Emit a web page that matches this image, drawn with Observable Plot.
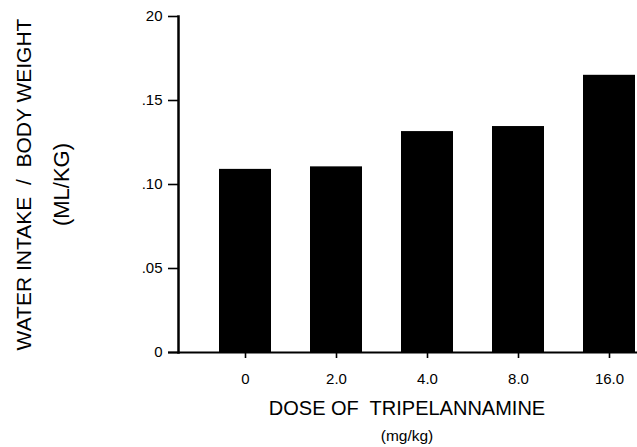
<!DOCTYPE html>
<html>
<head>
<meta charset="utf-8">
<script src="https://cdn.jsdelivr.net/npm/d3@7"></script>
<script src="https://cdn.jsdelivr.net/npm/@observablehq/plot@0.6"></script>
<style>
  html, body { margin: 0; padding: 0; background: #fff; }
  #chart svg { display: block; }
  #chart svg g[aria-label$="tick label"],
  #chart svg g[aria-label$="tick label"] text { font-size: 15px !important; }
</style>
</head>
<body>
<div id="chart"></div>
<script>
// Data
const doses = ["0", "2.0", "4.0", "8.0", "16.0"];
const intake = [0.109, 0.1105, 0.1315, 0.1345, 0.165];
const yTicks = [0, 0.05, 0.10, 0.15, 0.20];
const yTickLabels = ["0", ".05", ".10", ".15", "20"];
const yTitle = "WATER INTAKE  /  BODY WEIGHT";
const yUnit = "(ML/KG)";
const xTitle = "DOSE OF  TRIPELANNAMINE";
const xUnit = "(mg/kg)";

const data = doses.map((d, i) => ({dose: d, value: intake[i]}));
const font = "'Liberation Sans', Arial, Helvetica, sans-serif";

const chart = Plot.plot({
  width: 637,
  height: 447,
  marginLeft: 178,
  marginRight: 2,
  marginTop: 16,
  marginBottom: 95,
  style: {fontFamily: font, fontSize: "15px", color: "#000", background: "#fff"},
  x: {domain: doses, paddingInner: 0.43, paddingOuter: 0.22, align: 1},
  y: {domain: [0, 0.2]},
  marks: [
    Plot.barY(data, {x: "dose", y: "value", fill: "#000"}),
    Plot.frame({anchor: "left", stroke: "#000", strokeWidth: 2.5}),
    Plot.ruleY([0], {stroke: "#000", strokeWidth: 2, insetLeft: -10, insetRight: -2}),
    Plot.axisY({
      ticks: yTicks,
      tickFormat: (d) => yTickLabels[yTicks.indexOf(d)],
      tickSize: 10,
      tickPadding: 6,
      strokeWidth: 1.6,
      label: null,
      fontSize: 15
    }),
    Plot.axisX({
      tickSize: 6,
      tickPadding: 15,
      strokeWidth: 1.6,
      label: null,
      fontSize: 15
    }),
    Plot.text([yTitle], {frameAnchor: "left", textAnchor: "middle", rotate: -90, dx: -154, fontSize: 21, fill: "#000"}),
    Plot.text([yUnit], {frameAnchor: "left", textAnchor: "middle", rotate: -90, dx: -117, fontSize: 22, fill: "#000"}),
    Plot.text([xTitle], {frameAnchor: "bottom", dy: 62, fontSize: 20, fill: "#000"}),
    Plot.text([xUnit], {frameAnchor: "bottom", dy: 88, fontSize: 15.5, fill: "#000"})
  ]
});
document.getElementById("chart").appendChild(chart);
</script>
</body>
</html>
